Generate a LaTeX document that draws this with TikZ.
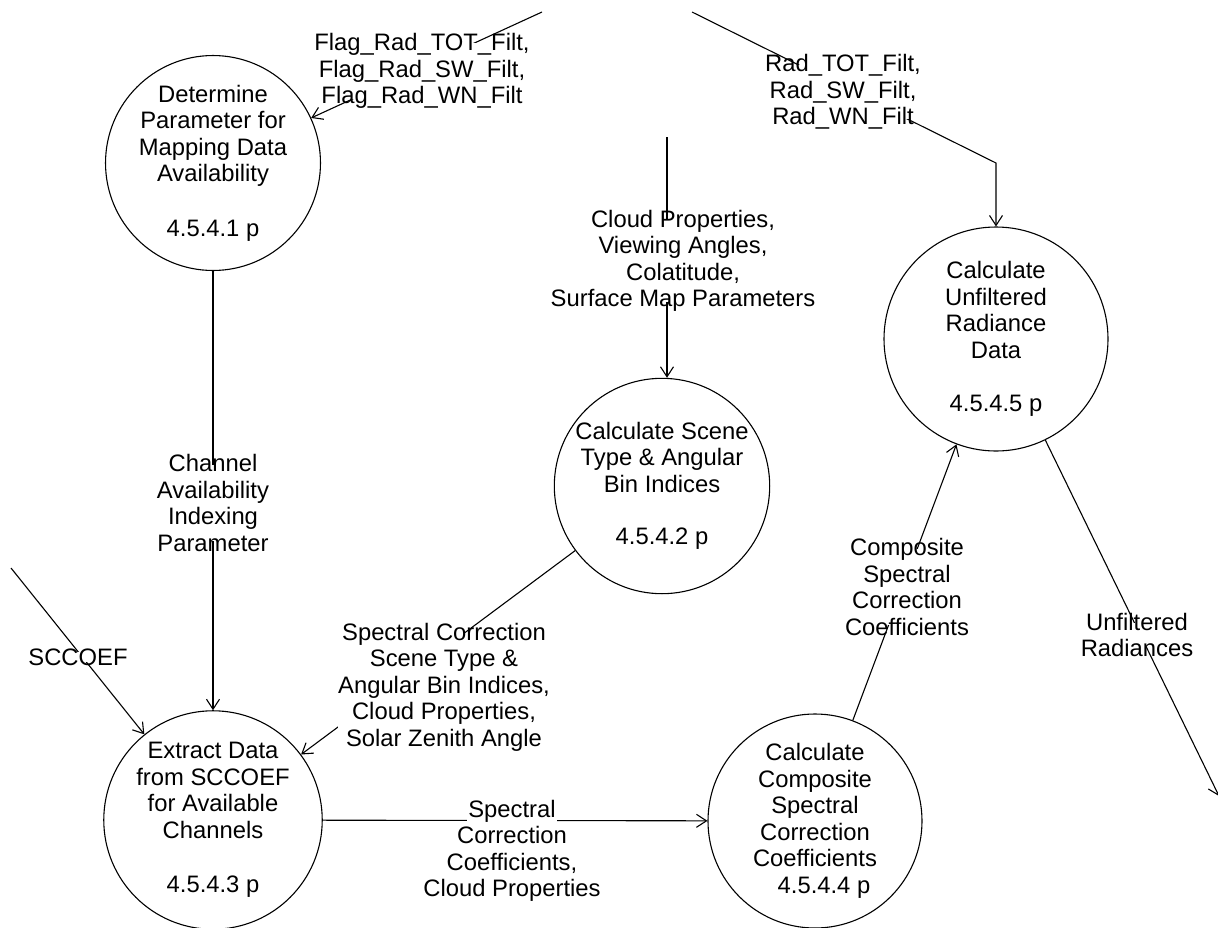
\documentclass[tikz,border=0pt]{standalone}
\usepackage{fontspec}
\setmainfont{Liberation Sans}
\usepackage{tikz}
\usetikzlibrary{arrows.meta, positioning}
\tikzstyle{->}   = [draw, -{Straight Barb[length=10pt,width=13pt]}]
\tikzstyle{-}    = [draw]
\tikzstyle{o}    = [draw, circle, align=center, inner sep=0pt]
\tikzstyle{lbl}  = [fill=white, align=center, inner xsep=0pt, inner ysep=-10pt]

\begin{document}
\begin{tikzpicture}[x=1pt, y=-1pt, line width=1.1pt,
                    font=\fontsize{23.8}{26.5}\selectfont]
\useasboundingbox (0,0) rectangle (1218,927);

%processes
\node [o, minimum size=200pt] (p1) at (213,163)
      {Determine\\Parameter for\\Mapping Data\\Availability\\[28pt]4.5.4.1 p};
\node [o, minimum size=214pt] (p2) at (662,486)
      {Calculate Scene\\Type \& Angular\\Bin Indices\\[26pt]4.5.4.2 p};
\node [o, minimum size=224pt] (p3) at (996,339)
      {Calculate\\Unfiltered\\Radiance\\Data\\[27pt]4.5.4.5 p};
\node [o, minimum size=210pt] (p4) at (213,820)
      {Extract Data\\from SCCOEF\\for Available\\Channels\\[28pt]4.5.4.3 p};
\node [o, minimum size=214pt] (p5) at (815,821)
      {Calculate\\Composite\\Spectral\\Correction\\Coefficients\\\hspace*{18pt}4.5.4.4 p};

%free ends
\coordinate (flagin)  at (542,12);
\coordinate (radin)   at (692,12);
\coordinate (radbend) at (996,163);
\coordinate (cldin)   at (667,137);
\coordinate (sccin)   at (11,568);
\coordinate (unfout)  at (1219,796);

% flows
\path (flagin) edge [->] (p1)
      (p1)     edge [->] (p4)
      (sccin)  edge [->] (p4)
      (p2)     edge [->] (p4)
      (p4)     edge [->] (p5)
      (p5)     edge [->] (p3)
      (p3)     edge [->] (unfout);
\draw [->] (radin) -- (radbend) -- (p3);
\draw [->] (cldin) -- (cldin |- p2.north);

% flow labels
\node [lbl] (lflag) at (422,71)
      {Flag\_Rad\_TOT\_Filt,\\Flag\_Rad\_SW\_Filt,\\Flag\_Rad\_WN\_Filt};
\node [lbl] (lrad)  at (843,92)
      {Rad\_TOT\_Filt,\\Rad\_SW\_Filt,\\Rad\_WN\_Filt};
\node [lbl] (lcld)  at (683,261)
      {Cloud Properties,\\Viewing Angles,\\Colatitude,\\Surface Map Parameters};
\node [lbl] (lchan) at (213,503)
      {Channel\\Availability\\Indexing\\Parameter};
\node [lbl, inner ysep=-3pt] (lscc) at (78,657) {SCCOEF};
\node [lbl] (lscn)  at (444,687)
      {Spectral Correction\\Scene Type \&\\Angular Bin Indices,\\Cloud Properties,\\Solar Zenith Angle};
\node [lbl, inner xsep=-44pt] (lspc) at (512,851)
      {Spectral\\Correction\\Coefficients,\\Cloud Properties};
\node [lbl] (lcmp)  at (907,587)
      {Composite\\Spectral\\Correction\\Coefficients};
\node [lbl] (lunf)  at (1137,635) {Unfiltered\\Radiances};

\end{tikzpicture}
\end{document}
